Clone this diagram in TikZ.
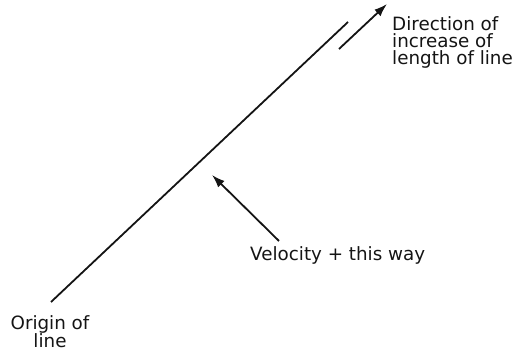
\documentclass[tikz,border=0pt]{standalone}
\usepackage{fontspec}
\setmainfont{DejaVu Sans}
\usetikzlibrary{arrows.meta, positioning}
\definecolor{mydark}{RGB}{20,20,20}
\tikzset{
  line/.style={line width=1.8pt, color=mydark},
  arrow/.style={-{Latex[length=13pt,width=9pt]}, line width=1.8pt, color=mydark},
  label/.style={font=\fontsize{18.3}{17.3}\selectfont, color=mydark, inner sep=0pt}
}
\begin{document}
\begin{tikzpicture}[x=1pt, y=1pt]
  \useasboundingbox (0,0) rectangle (514,352);

  % Line
  \coordinate (origin) at (51,50);
  \coordinate (lineend) at (348,330);
  \draw[line] (origin) -- (lineend);
  \node[label, align=center, anchor=north] (originlbl) at (50,37) {Origin of\\line};

  % Direction of increase
  \coordinate (dirtail) at (339,303);
  \coordinate (dirhead) at (387,348);
  \draw[arrow] (dirtail) -- (dirhead);
  \node[label, align=left, anchor=north west] (dirlbl) at (392,336) {Direction of\\increase of\\length of line};

  % Velocity
  \node[label, anchor=base west] (vellbl) at (250,91) {Velocity + this way};
  \coordinate (veltail) at (279,111);
  \coordinate (velhead) at (212,177);
  \draw[arrow] (veltail) -- (velhead);
\end{tikzpicture}
\end{document}
